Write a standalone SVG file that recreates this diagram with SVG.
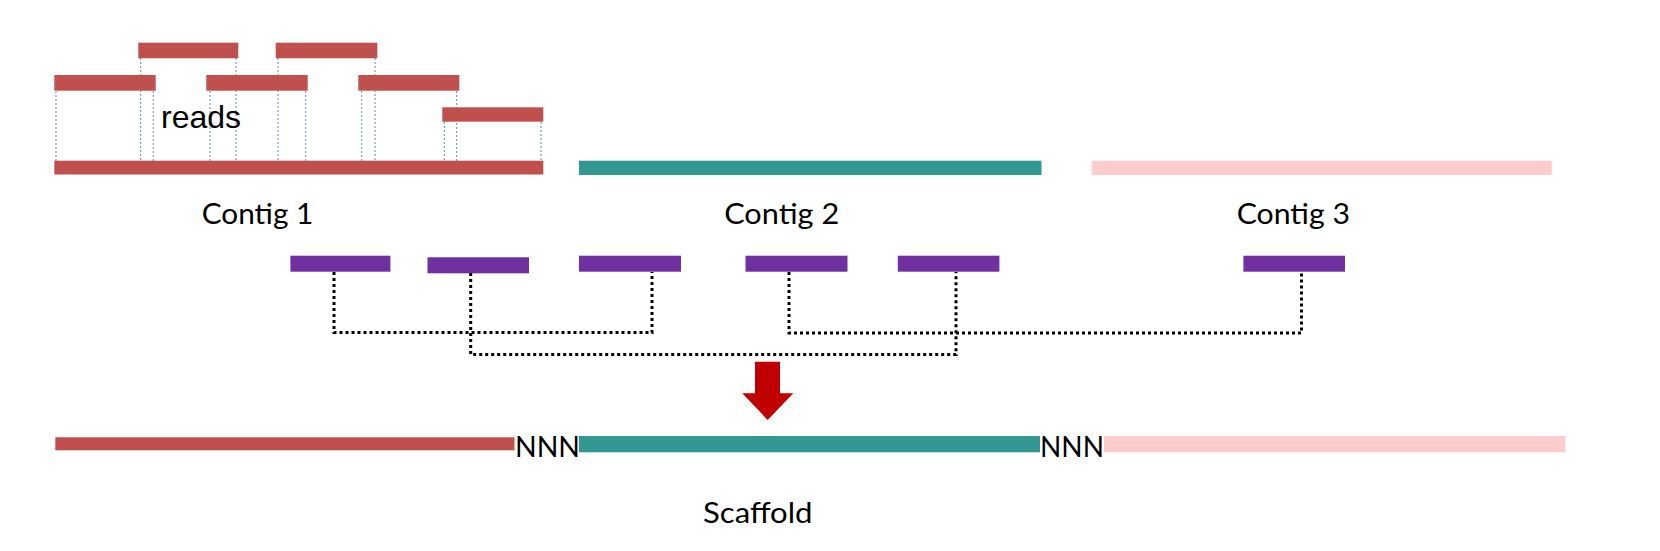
<svg xmlns="http://www.w3.org/2000/svg" width="1660" height="551" viewBox="0 0 1660 551">
<style>
.read{fill:#C0504D}
.c1{fill:#C0504D}
.c2{fill:#339891}
.c3{fill:#FFCCCC}
.pair{fill:#7030A0}
.guide{stroke:#5B84C4;stroke-width:1;stroke-dasharray:2 2;fill:none}
.link{stroke:#000;stroke-width:3;stroke-dasharray:3 3;fill:none}
.lbl{font-family:Lato,"Open Sans","DejaVu Sans",sans-serif;font-size:29px;fill:#000}
.rd{font-family:"Liberation Sans",Arial,sans-serif;font-size:32px;fill:#000}
</style>
<rect width="1660" height="551" fill="#fff"/>
<g id="guides">
<path class="guide" d="M56 91V161M140.7 58V161M153.3 91V174M210 91V161M236 58V161M278 58V161M305.7 91V174M361.7 91V161M375 58V161M444.3 122V161M456.7 91V161M541 122V161"/>
</g>
<g id="reads">
<rect class="read" x="138.3" y="42.7" width="100" height="15.6"/>
<rect class="read" x="275.7" y="42.7" width="101.6" height="15.6"/>
<rect class="read" x="54.3" y="75" width="101.4" height="15.7"/>
<rect class="read" x="206.3" y="75" width="101.4" height="15.7"/>
<rect class="read" x="358.3" y="75" width="101" height="15.7"/>
<rect class="read" x="442.3" y="107.3" width="101" height="14.4"/>
<text class="rd" x="161" y="128">reads</text>
</g>
<g id="contig1">
<rect class="c1" x="54.3" y="160.7" width="489" height="13.8"/>
<text class="lbl" x="201.7" y="223.5" textLength="111.6" lengthAdjust="spacingAndGlyphs">Contig 1</text>
</g>
<g id="contig2">
<rect class="c2" x="579" y="160.7" width="462.5" height="14.3"/>
<text class="lbl" x="724.2" y="224" textLength="115" lengthAdjust="spacingAndGlyphs">Contig 2</text>
</g>
<g id="contig3">
<rect class="c3" x="1091.7" y="160.7" width="460" height="14.3"/>
<text class="lbl" x="1236.7" y="224" textLength="113.3" lengthAdjust="spacingAndGlyphs">Contig 3</text>
</g>
<g id="pairs">
<rect id="p1" class="pair" x="290.4" y="255.7" width="100" height="16"/>
<rect id="p2" class="pair" x="427.5" y="257.3" width="101.5" height="16"/>
<rect id="p3" class="pair" x="579" y="255.7" width="102" height="16"/>
<rect id="p4" class="pair" x="745.5" y="255.7" width="102" height="16"/>
<rect id="p5" class="pair" x="897.8" y="255.7" width="101.6" height="16"/>
<rect id="p6" class="pair" x="1243.4" y="255.7" width="101.6" height="16"/>
</g>
<g id="connectors">
<path class="link" d="M334 272V332.5H652V272"/>
<path class="link" d="M470.7 273V354.5H956V272"/>
<path class="link" d="M789 272V333H1301.5V272"/>
</g>
<g id="arrow">
<path fill="#C00000" d="M755 361.7H780V393.3H793.3L767.7 420L742.3 393.3H755Z"/>
</g>
<g id="scaffold">
<rect class="c1" x="55.3" y="437.3" width="459.2" height="13"/>
<rect class="c2" x="579" y="436" width="461" height="16.3"/>
<rect class="c3" x="1104" y="436" width="461.5" height="16.3"/>
<text class="lbl" x="515" y="457.3" textLength="65" lengthAdjust="spacingAndGlyphs">NNN</text>
<text class="lbl" x="1040" y="457.3" textLength="64" lengthAdjust="spacingAndGlyphs">NNN</text>
<text class="lbl" x="703" y="523" textLength="109.5" lengthAdjust="spacingAndGlyphs">Scaffold</text>
</g>
</svg>
